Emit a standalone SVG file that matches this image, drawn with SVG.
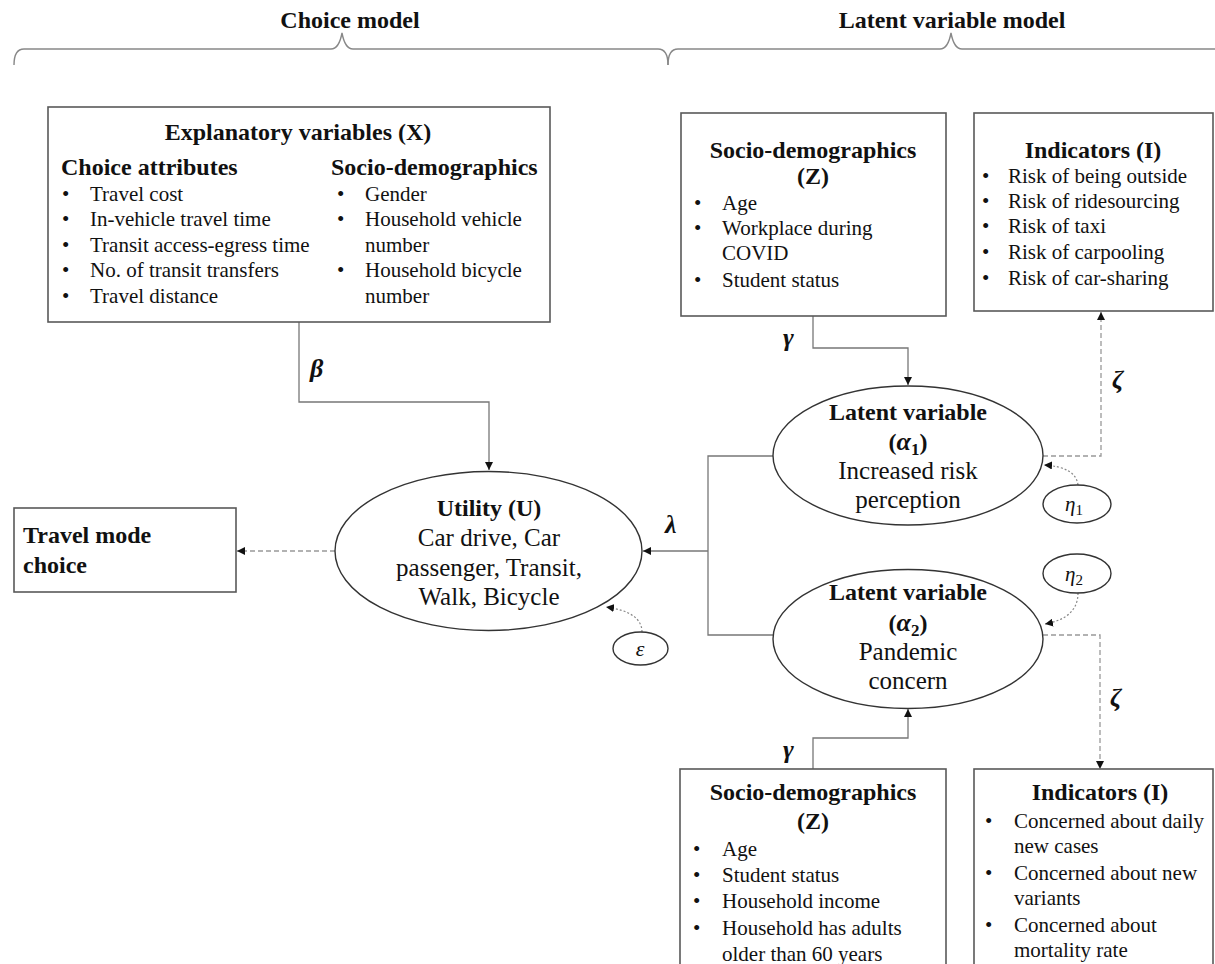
<svg xmlns="http://www.w3.org/2000/svg" width="1215" height="964" viewBox="0 0 1215 964">
<style>
.box{fill:#fff;stroke:#595959;stroke-width:1.6}
.ell{fill:#fff;stroke:#333;stroke-width:1.4}
.t{font-family:"Liberation Serif","Times New Roman",serif;fill:#111}
.h{font-size:24px;font-weight:bold}
.b{font-size:21px}
.e{font-size:25px}
.g{font-family:"Liberation Serif","Times New Roman",serif;font-size:26px;font-weight:bold;font-style:italic;fill:#111}
.solid{fill:none;stroke:#777;stroke-width:1.3}
.dash{fill:none;stroke:#999;stroke-width:1.3;stroke-dasharray:5 3}
.dot{fill:none;stroke:#888;stroke-width:1.2;stroke-dasharray:2 2}
.brace{fill:none;stroke:#888;stroke-width:1.4}
</style>
<defs>
<marker id="ar" viewBox="0 0 10 10" refX="10" refY="5" markerWidth="8" markerHeight="8" markerUnits="userSpaceOnUse" orient="auto"><path d="M0,0 L10,5 L0,10 z" fill="#111"/></marker>
</defs>
<rect width="1215" height="964" fill="#fff"/>

<g id="headers">
<path class="brace" d="M14,65 Q14,49 24,49 L331,49 Q339,49 342,33 Q345,49 353,49 L658,49 Q668,49 668,65"/>
<path class="brace" d="M668,65 Q668,49 678,49 L940,49 Q948,49 951,33 Q954,49 962,49 L1215,49"/>
<text class="t h" x="350" y="28" text-anchor="middle">Choice model</text>
<text class="t h" x="952" y="28" text-anchor="middle">Latent variable model</text>
</g>

<g id="connectors">
<path class="solid" d="M299,322 V402 H489 V470" marker-end="url(#ar)"/>
<path class="solid" d="M813,316 V348 H908 V385" marker-end="url(#ar)"/>
<path class="solid" d="M813,769 V738 H908 V709" marker-end="url(#ar)"/>
<path class="solid" d="M773,456 H708 V635 H773"/>
<path class="solid" d="M708,551 H643" marker-end="url(#ar)"/>
<path class="dash" d="M335,551 H237" marker-end="url(#ar)"/>
<path class="dash" d="M1043,456 H1101 V312" marker-end="url(#ar)"/>
<path class="dash" d="M1043,635 H1100 V769" marker-end="url(#ar)"/>
<path class="dot" d="M642,632 Q642,612 606,607" marker-end="url(#ar)"/>
<path class="dot" d="M1078,485 Q1076,467 1044,465" marker-end="url(#ar)"/>
<path class="dot" d="M1078,593 Q1078,618 1045,624" marker-end="url(#ar)"/>
<text class="g" x="310" y="377">β</text>
<text class="g" x="783" y="346">γ</text>
<text class="g" x="783" y="758">γ</text>
<text class="g" x="665" y="533">λ</text>
<text class="g" x="1112" y="388">ζ</text>
<text class="g" x="1110" y="706">ζ</text>
</g>

<g id="explanatory">
<rect class="box" x="48" y="107" width="502" height="215"/>
<text class="t h" x="298" y="140" text-anchor="middle">Explanatory variables (X)</text>
<text class="t h" x="61" y="175">Choice attributes</text>
<text class="t h" x="331" y="175">Socio-demographics</text>
<g class="t b">
<text x="62" y="201">•</text><text x="90" y="201">Travel cost</text>
<text x="62" y="226">•</text><text x="90" y="226">In-vehicle travel time</text>
<text x="62" y="252">•</text><text x="90" y="252">Transit access-egress time</text>
<text x="62" y="277">•</text><text x="90" y="277">No. of transit transfers</text>
<text x="62" y="303">•</text><text x="90" y="303">Travel distance</text>
<text x="337" y="201">•</text><text x="365" y="201">Gender</text>
<text x="337" y="226">•</text><text x="365" y="226">Household vehicle</text>
<text x="365" y="252">number</text>
<text x="337" y="277">•</text><text x="365" y="277">Household bicycle</text>
<text x="365" y="303">number</text>
</g>
</g>

<g id="socio-top">
<rect class="box" x="681" y="113" width="265" height="203"/>
<text class="t h" x="813" y="158" text-anchor="middle">Socio-demographics</text>
<text class="t h" x="813" y="184" text-anchor="middle">(Z)</text>
<g class="t b">
<text x="694" y="210">•</text><text x="722" y="210">Age</text>
<text x="694" y="235">•</text><text x="722" y="235">Workplace during</text>
<text x="722" y="260">COVID</text>
<text x="694" y="287">•</text><text x="722" y="287">Student status</text>
</g>
</g>

<g id="indicators-top">
<rect class="box" x="974" y="113" width="239" height="198"/>
<text class="t h" x="1093" y="158" text-anchor="middle">Indicators (I)</text>
<g class="t b">
<text x="982" y="183">•</text><text x="1008" y="183">Risk of being outside</text>
<text x="982" y="208">•</text><text x="1008" y="208">Risk of ridesourcing</text>
<text x="982" y="233">•</text><text x="1008" y="233">Risk of taxi</text>
<text x="982" y="259">•</text><text x="1008" y="259">Risk of carpooling</text>
<text x="982" y="285">•</text><text x="1008" y="285">Risk of car-sharing</text>
</g>
</g>

<g id="travel-mode">
<rect class="box" x="14" y="508" width="222" height="84"/>
<text class="t h" x="23" y="543">Travel mode</text>
<text class="t h" x="23" y="573">choice</text>
</g>

<g id="utility">
<ellipse class="ell" cx="488.5" cy="551" rx="153.5" ry="79.5"/>
<text class="t h" x="489" y="516" text-anchor="middle">Utility (U)</text>
<g class="t e" text-anchor="middle">
<text x="489" y="546">Car drive, Car</text>
<text x="489" y="576">passenger, Transit,</text>
<text x="489" y="605">Walk, Bicycle</text>
</g>
</g>

<g id="epsilon">
<ellipse class="ell" cx="640.5" cy="648.5" rx="27.5" ry="16.5"/>
<text class="t" x="640" y="656" font-size="22" font-style="italic" text-anchor="middle">ε</text>
</g>

<g id="latent1">
<ellipse class="ell" cx="908" cy="455.5" rx="135" ry="69.5"/>
<text class="t h" x="908" y="420" text-anchor="middle">Latent variable</text>
<text class="t h" x="908" y="450" text-anchor="middle">(<tspan font-style="italic" font-size="26">α</tspan><tspan font-size="17" dy="5">1</tspan><tspan dy="-5">)</tspan></text>
<text class="t e" x="908" y="479" text-anchor="middle">Increased risk</text>
<text class="t e" x="908" y="508" text-anchor="middle">perception</text>
</g>

<g id="eta1">
<ellipse class="ell" cx="1077" cy="504" rx="34" ry="19"/>
<text class="t" x="1074" y="511" font-size="21" text-anchor="middle"><tspan font-style="italic">η</tspan><tspan font-size="15" dy="4">1</tspan></text>
</g>

<g id="eta2">
<ellipse class="ell" cx="1077" cy="573.5" rx="34" ry="19.5"/>
<text class="t" x="1074" y="581" font-size="21" text-anchor="middle"><tspan font-style="italic">η</tspan><tspan font-size="15" dy="4">2</tspan></text>
</g>

<g id="latent2">
<ellipse class="ell" cx="908" cy="639" rx="135" ry="69.5"/>
<text class="t h" x="908" y="600" text-anchor="middle">Latent variable</text>
<text class="t h" x="908" y="631" text-anchor="middle">(<tspan font-style="italic" font-size="26">α</tspan><tspan font-size="17" dy="5">2</tspan><tspan dy="-5">)</tspan></text>
<text class="t e" x="908" y="660" text-anchor="middle">Pandemic</text>
<text class="t e" x="908" y="689" text-anchor="middle">concern</text>
</g>

<g id="socio-bottom">
<rect class="box" x="680" y="769" width="266" height="205"/>
<text class="t h" x="813" y="800" text-anchor="middle">Socio-demographics</text>
<text class="t h" x="813" y="829" text-anchor="middle">(Z)</text>
<g class="t b">
<text x="693" y="856">•</text><text x="722" y="856">Age</text>
<text x="693" y="882">•</text><text x="722" y="882">Student status</text>
<text x="693" y="908">•</text><text x="722" y="908">Household income</text>
<text x="693" y="935">•</text><text x="722" y="935">Household has adults</text>
<text x="722" y="961">older than 60 years</text>
</g>
</g>

<g id="indicators-bottom">
<rect class="box" x="974" y="769" width="239" height="205"/>
<text class="t h" x="1100" y="800" text-anchor="middle">Indicators (I)</text>
<g class="t b">
<text x="985" y="828">•</text><text x="1014" y="828">Concerned about daily</text>
<text x="1014" y="853">new cases</text>
<text x="985" y="880">•</text><text x="1014" y="880">Concerned about new</text>
<text x="1014" y="905">variants</text>
<text x="985" y="932">•</text><text x="1014" y="932">Concerned about</text>
<text x="1014" y="957">mortality rate</text>
</g>
</g>
</svg>
